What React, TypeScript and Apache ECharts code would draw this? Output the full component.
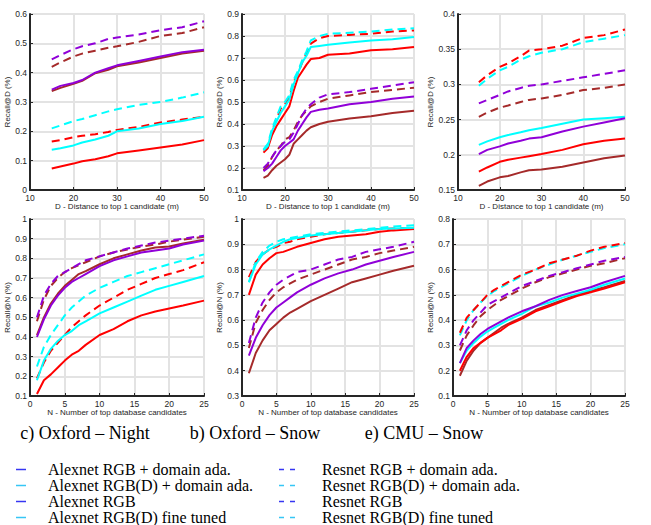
import React, { useEffect, useRef } from "react";
import * as echarts from "echarts";

// ---------- Data ----------
const COLORS: Record<string, string> = {
  red: "#ff0000",
  cyan: "#00ffff",
  purple: "#9000d8",
  brown: "#a52a2a",
};
const VARIANT: Record<string, string> = {
  red: "RGB + domain ada.",
  cyan: "RGB(D) + domain ada.",
  purple: "RGB",
  brown: "RGB(D) fine tuned",
};

// Top row: Recall@D vs D
const xNightD = [15, 17, 20, 22, 25, 28, 30, 35, 40, 45, 50];
const nightD_purpleD = [0.445, 0.46, 0.48, 0.49, 0.5, 0.515, 0.52, 0.53, 0.545, 0.555, 0.575];
const nightD_brownD = [0.42, 0.435, 0.455, 0.465, 0.475, 0.485, 0.49, 0.505, 0.525, 0.535, 0.555];
const nightD_purpleS = [0.342, 0.355, 0.365, 0.375, 0.4, 0.415, 0.425, 0.44, 0.455, 0.47, 0.478];
const nightD_brownS = [0.337, 0.348, 0.362, 0.372, 0.398, 0.41, 0.422, 0.435, 0.45, 0.465, 0.475];
const nightD_cyanD = [0.21, 0.22, 0.235, 0.242, 0.255, 0.268, 0.275, 0.29, 0.3, 0.315, 0.333];
const nightD_redD = [0.165, 0.17, 0.18, 0.185, 0.19, 0.198, 0.205, 0.215, 0.23, 0.24, 0.25];
const nightD_cyanS = [0.137, 0.142, 0.152, 0.162, 0.172, 0.185, 0.2, 0.21, 0.225, 0.235, 0.25];
const nightD_redS = [0.073, 0.08, 0.09, 0.098, 0.105, 0.115, 0.125, 0.135, 0.145, 0.155, 0.17];

const xSnowD = [15, 16, 17, 18, 19, 20, 21, 22, 23, 24, 25, 26, 28, 30, 35, 40, 45, 50];
const snowD_cyanD = [0.285, 0.31, 0.38, 0.43, 0.48, 0.5, 0.53, 0.6, 0.64, 0.69, 0.73, 0.78, 0.8, 0.81, 0.815, 0.82, 0.83, 0.835];
const snowD_redD = [0.28, 0.3, 0.37, 0.42, 0.47, 0.49, 0.52, 0.59, 0.63, 0.68, 0.72, 0.765, 0.79, 0.8, 0.805, 0.81, 0.82, 0.825];
const snowD_cyanS = [0.28, 0.3, 0.37, 0.41, 0.45, 0.48, 0.51, 0.58, 0.63, 0.68, 0.71, 0.75, 0.755, 0.76, 0.77, 0.78, 0.785, 0.795];
const snowD_redS = [0.27, 0.29, 0.35, 0.39, 0.42, 0.45, 0.48, 0.55, 0.61, 0.64, 0.67, 0.695, 0.7, 0.715, 0.72, 0.735, 0.74, 0.75];
const snowD_purpleD = [0.2, 0.22, 0.25, 0.28, 0.3, 0.32, 0.33, 0.36, 0.4, 0.44, 0.47, 0.49, 0.52, 0.535, 0.545, 0.56, 0.575, 0.59];
const snowD_brownD = [0.19, 0.21, 0.25, 0.28, 0.3, 0.33, 0.34, 0.37, 0.41, 0.44, 0.46, 0.48, 0.5, 0.515, 0.53, 0.545, 0.555, 0.565];
const snowD_purpleS = [0.185, 0.2, 0.22, 0.25, 0.28, 0.3, 0.315, 0.33, 0.37, 0.4, 0.43, 0.455, 0.465, 0.47, 0.49, 0.5, 0.515, 0.525];
const snowD_brownS = [0.155, 0.165, 0.19, 0.21, 0.225, 0.24, 0.26, 0.31, 0.33, 0.35, 0.37, 0.385, 0.4, 0.41, 0.425, 0.435, 0.45, 0.46];

const xCmuD = [15, 17, 20, 22, 25, 27, 30, 35, 40, 45, 50];
const cmuD_redD = [0.303, 0.313, 0.325, 0.33, 0.34, 0.348, 0.35, 0.355, 0.366, 0.37, 0.378];
const cmuD_cyanD = [0.298, 0.308, 0.32, 0.325, 0.335, 0.34, 0.345, 0.35, 0.36, 0.365, 0.37];
const cmuD_purpleD = [0.273, 0.278, 0.285, 0.29, 0.295, 0.298, 0.3, 0.305, 0.31, 0.315, 0.32];
const cmuD_brownD = [0.254, 0.26, 0.267, 0.27, 0.275, 0.278, 0.28, 0.285, 0.292, 0.295, 0.3];
const cmuD_cyanS = [0.214, 0.219, 0.225, 0.228, 0.232, 0.235, 0.238, 0.244, 0.25, 0.252, 0.254];
const cmuD_purpleS = [0.201, 0.207, 0.212, 0.216, 0.22, 0.223, 0.225, 0.233, 0.24, 0.246, 0.252];
const cmuD_redS = [0.176, 0.182, 0.19, 0.193, 0.196, 0.198, 0.201, 0.207, 0.215, 0.22, 0.223];
const cmuD_brownS = [0.156, 0.162, 0.168, 0.17, 0.175, 0.178, 0.179, 0.183, 0.189, 0.195, 0.199];

// Bottom row: Recall@N vs N
const xN = [1, 2, 3, 4, 5, 6, 7, 8, 10, 12, 14, 16, 18, 20, 22, 25];
const nightN_purpleD = [0.5, 0.61, 0.67, 0.71, 0.73, 0.75, 0.77, 0.79, 0.81, 0.83, 0.85, 0.865, 0.88, 0.89, 0.9, 0.915];
const nightN_brownD = [0.48, 0.59, 0.66, 0.7, 0.73, 0.75, 0.765, 0.78, 0.81, 0.83, 0.845, 0.86, 0.87, 0.885, 0.895, 0.91];
const nightN_brownS = [0.41, 0.5, 0.57, 0.62, 0.66, 0.69, 0.72, 0.735, 0.77, 0.8, 0.82, 0.84, 0.855, 0.86, 0.875, 0.895];
const nightN_purpleS = [0.4, 0.49, 0.56, 0.61, 0.65, 0.68, 0.7, 0.72, 0.76, 0.79, 0.81, 0.83, 0.84, 0.85, 0.87, 0.89];
const nightN_cyanD = [0.25, 0.35, 0.41, 0.46, 0.51, 0.55, 0.58, 0.61, 0.65, 0.68, 0.71, 0.73, 0.75, 0.77, 0.79, 0.82];
const nightN_redD = [0.19, 0.27, 0.33, 0.37, 0.41, 0.45, 0.48, 0.51, 0.56, 0.6, 0.64, 0.67, 0.7, 0.72, 0.74, 0.78];
const nightN_cyanS = [0.18, 0.28, 0.34, 0.38, 0.41, 0.43, 0.46, 0.48, 0.52, 0.55, 0.58, 0.61, 0.64, 0.66, 0.68, 0.71];
const nightN_redS = [0.11, 0.18, 0.21, 0.245, 0.28, 0.31, 0.33, 0.36, 0.41, 0.44, 0.48, 0.51, 0.53, 0.545, 0.56, 0.585];

const snowN_cyanD = [0.75, 0.83, 0.87, 0.895, 0.91, 0.92, 0.925, 0.93, 0.94, 0.945, 0.95, 0.955, 0.96, 0.965, 0.97, 0.975];
const snowN_redD = [0.77, 0.83, 0.86, 0.88, 0.89, 0.905, 0.91, 0.92, 0.93, 0.94, 0.945, 0.95, 0.955, 0.96, 0.962, 0.965];
const snowN_cyanS = [0.75, 0.82, 0.86, 0.88, 0.895, 0.91, 0.92, 0.925, 0.935, 0.94, 0.945, 0.95, 0.955, 0.96, 0.962, 0.965];
const snowN_redS = [0.7, 0.78, 0.82, 0.845, 0.865, 0.87, 0.88, 0.89, 0.905, 0.92, 0.93, 0.935, 0.94, 0.95, 0.955, 0.96];
const snowN_purpleD = [0.51, 0.61, 0.67, 0.71, 0.74, 0.76, 0.775, 0.79, 0.8, 0.82, 0.84, 0.85, 0.87, 0.88, 0.89, 0.91];
const snowN_brownD = [0.49, 0.59, 0.64, 0.68, 0.71, 0.73, 0.745, 0.76, 0.78, 0.8, 0.82, 0.84, 0.85, 0.865, 0.875, 0.89];
const snowN_purpleS = [0.46, 0.53, 0.58, 0.62, 0.65, 0.67, 0.69, 0.71, 0.74, 0.765, 0.785, 0.8, 0.82, 0.835, 0.85, 0.87];
const snowN_brownS = [0.39, 0.47, 0.52, 0.56, 0.585, 0.61, 0.63, 0.645, 0.675, 0.7, 0.725, 0.75, 0.765, 0.78, 0.795, 0.815];

const cmuN_redD = [0.35, 0.41, 0.44, 0.47, 0.5, 0.52, 0.535, 0.55, 0.58, 0.6, 0.625, 0.64, 0.655, 0.675, 0.69, 0.705];
const cmuN_cyanD = [0.34, 0.4, 0.44, 0.47, 0.495, 0.515, 0.53, 0.545, 0.575, 0.6, 0.62, 0.64, 0.655, 0.67, 0.685, 0.7];
const cmuN_purpleD = [0.3, 0.36, 0.4, 0.43, 0.46, 0.475, 0.49, 0.505, 0.535, 0.555, 0.575, 0.59, 0.605, 0.62, 0.635, 0.65];
const cmuN_brownD = [0.28, 0.34, 0.38, 0.415, 0.44, 0.46, 0.48, 0.495, 0.525, 0.55, 0.57, 0.585, 0.6, 0.615, 0.625, 0.645];
const cmuN_purpleS = [0.23, 0.29, 0.32, 0.345, 0.365, 0.38, 0.395, 0.41, 0.435, 0.455, 0.48, 0.5, 0.515, 0.53, 0.55, 0.575];
const cmuN_cyanS = [0.23, 0.28, 0.31, 0.335, 0.355, 0.37, 0.385, 0.4, 0.425, 0.455, 0.47, 0.49, 0.505, 0.52, 0.54, 0.565];
const cmuN_brownS = [0.18, 0.24, 0.28, 0.31, 0.33, 0.35, 0.37, 0.385, 0.41, 0.44, 0.46, 0.48, 0.5, 0.515, 0.53, 0.555];
const cmuN_redS = [0.2, 0.255, 0.29, 0.31, 0.33, 0.345, 0.36, 0.38, 0.405, 0.435, 0.455, 0.475, 0.495, 0.51, 0.525, 0.55];

const captions = ["c) Oxford – Night", "b) Oxford – Snow", "e) CMU – Snow"];
const xNameTop = "D - Distance to top 1 candidate (m)";
const xNameBottom = "N - Number of top database candidates";
const yNameTop = "Recall@D (%)";
const yNameBottom = "Recall@N (%)";

const legendLeft = [
  "Alexnet RGB + domain ada.",
  "Alexnet RGB(D) + domain ada.",
  "Alexnet RGB",
  "Alexnet RGB(D) fine tuned",
];
const legendRight = [
  "Resnet RGB + domain ada.",
  "Resnet RGB(D) + domain ada.",
  "Resnet RGB",
  "Resnet RGB(D) fine tuned",
];
const legendColors = ["#3636f2", "#36c6f5", "#3636f2", "#36c6f5"];

type S = { c: string; dashed: boolean; v: number[] };
const panels: { xs: number[]; series: S[] }[] = [
  {
    xs: xNightD,
    series: [
      { c: "purple", dashed: true, v: nightD_purpleD },
      { c: "brown", dashed: true, v: nightD_brownD },
      { c: "brown", dashed: false, v: nightD_brownS },
      { c: "purple", dashed: false, v: nightD_purpleS },
      { c: "cyan", dashed: true, v: nightD_cyanD },
      { c: "red", dashed: true, v: nightD_redD },
      { c: "cyan", dashed: false, v: nightD_cyanS },
      { c: "red", dashed: false, v: nightD_redS },
    ],
  },
  {
    xs: xSnowD,
    series: [
      { c: "red", dashed: true, v: snowD_redD },
      { c: "cyan", dashed: true, v: snowD_cyanD },
      { c: "red", dashed: false, v: snowD_redS },
      { c: "cyan", dashed: false, v: snowD_cyanS },
      { c: "brown", dashed: true, v: snowD_brownD },
      { c: "purple", dashed: true, v: snowD_purpleD },
      { c: "brown", dashed: false, v: snowD_brownS },
      { c: "purple", dashed: false, v: snowD_purpleS },
    ],
  },
  {
    xs: xCmuD,
    series: [
      { c: "cyan", dashed: true, v: cmuD_cyanD },
      { c: "red", dashed: true, v: cmuD_redD },
      { c: "purple", dashed: true, v: cmuD_purpleD },
      { c: "brown", dashed: true, v: cmuD_brownD },
      { c: "cyan", dashed: false, v: cmuD_cyanS },
      { c: "purple", dashed: false, v: cmuD_purpleS },
      { c: "red", dashed: false, v: cmuD_redS },
      { c: "brown", dashed: false, v: cmuD_brownS },
    ],
  },
  {
    xs: xN,
    series: [
      { c: "brown", dashed: true, v: nightN_brownD },
      { c: "purple", dashed: true, v: nightN_purpleD },
      { c: "brown", dashed: false, v: nightN_brownS },
      { c: "purple", dashed: false, v: nightN_purpleS },
      { c: "cyan", dashed: true, v: nightN_cyanD },
      { c: "red", dashed: true, v: nightN_redD },
      { c: "cyan", dashed: false, v: nightN_cyanS },
      { c: "red", dashed: false, v: nightN_redS },
    ],
  },
  {
    xs: xN,
    series: [
      { c: "red", dashed: true, v: snowN_redD },
      { c: "cyan", dashed: true, v: snowN_cyanD },
      { c: "red", dashed: false, v: snowN_redS },
      { c: "cyan", dashed: false, v: snowN_cyanS },
      { c: "brown", dashed: true, v: snowN_brownD },
      { c: "purple", dashed: true, v: snowN_purpleD },
      { c: "brown", dashed: false, v: snowN_brownS },
      { c: "purple", dashed: false, v: snowN_purpleS },
    ],
  },
  {
    xs: xN,
    series: [
      { c: "cyan", dashed: true, v: cmuN_cyanD },
      { c: "red", dashed: true, v: cmuN_redD },
      { c: "brown", dashed: true, v: cmuN_brownD },
      { c: "purple", dashed: true, v: cmuN_purpleD },
      { c: "brown", dashed: false, v: cmuN_brownS },
      { c: "red", dashed: false, v: cmuN_redS },
      { c: "cyan", dashed: false, v: cmuN_cyanS },
      { c: "purple", dashed: false, v: cmuN_purpleS },
    ],
  },
];

const grids = [
  { left: 30, top: 14, width: 174, height: 176 },
  { left: 242, top: 14, width: 172, height: 176 },
  { left: 458, top: 14, width: 167, height: 176 },
  { left: 30, top: 219, width: 174, height: 177 },
  { left: 242, top: 219, width: 172, height: 177 },
  { left: 453, top: 219, width: 172, height: 177 },
];
const yRanges = [
  [0, 0.6, 0.1],
  [0.1, 0.9, 0.1],
  [0.15, 0.4, 0.05],
  [0.1, 1, 0.1],
  [0.3, 1, 0.1],
  [0.1, 0.8, 0.1],
];

const AXIS_COLOR = "#262626";
const GRID_COLOR = "#e3e3e3";
const SANS = "Liberation Sans, Arial, sans-serif";
const SERIF = "Liberation Serif, DejaVu Serif, serif";

export default function App() {
  const ref = useRef<HTMLDivElement>(null);
  useEffect(() => {
    document.body.style.margin = "0";
    if (!ref.current) return;
    const chart = echarts.init(ref.current, undefined, { renderer: "svg" });

    const fmt = (v: number) => String(parseFloat(v.toFixed(3)));

    const xAxis = grids.map((_, i) => ({
      type: "value",
      gridIndex: i,
      min: i < 3 ? 10 : 0,
      max: i < 3 ? 50 : 25,
      interval: i < 3 ? 10 : 5,
      name: i < 3 ? xNameTop : xNameBottom,
      nameLocation: "middle",
      nameGap: 12,
      nameTextStyle: { fontSize: 8, color: AXIS_COLOR, fontFamily: SANS },
      axisLine: { show: true, onZero: false, lineStyle: { color: AXIS_COLOR, width: 2 } },
      axisTick: { show: true, inside: true, length: 3, lineStyle: { color: AXIS_COLOR, width: 1 } },
      axisLabel: { fontSize: 8.5, color: AXIS_COLOR, fontFamily: SANS, margin: 3, formatter: fmt, showMinLabel: true, showMaxLabel: true },
      splitLine: { show: true, lineStyle: { color: GRID_COLOR, width: 2 } },
    }));
    const yAxis = grids.map((_, i) => ({
      type: "value",
      gridIndex: i,
      min: yRanges[i][0],
      max: yRanges[i][1],
      interval: yRanges[i][2],
      name: i < 3 ? yNameTop : yNameBottom,
      nameLocation: "middle",
      nameGap: i === 2 || i === 5 ? 19 : 17,
      nameTextStyle: { fontSize: 8, color: AXIS_COLOR, fontFamily: SANS },
      axisLine: { show: true, onZero: false, lineStyle: { color: AXIS_COLOR, width: 2 } },
      axisTick: { show: true, inside: true, length: 3, lineStyle: { color: AXIS_COLOR, width: 1 } },
      axisLabel: { fontSize: 8.5, color: AXIS_COLOR, fontFamily: SANS, margin: 3, formatter: fmt, showMinLabel: true, showMaxLabel: true },
      splitLine: { show: true, lineStyle: { color: GRID_COLOR, width: 2 } },
    }));

    const series: any[] = [];
    panels.forEach((p, gi) => {
      p.series.forEach((s) => {
        series.push({
          type: "line",
          name: (s.dashed ? "Resnet " : "Alexnet ") + VARIANT[s.c],
          xAxisIndex: gi,
          yAxisIndex: gi,
          data: p.xs.map((x, k) => [x, s.v[k]]),
          showSymbol: false,
          symbol: "none",
          clip: true,
          lineStyle: {
            color: COLORS[s.c],
            width: 2,
            type: s.dashed ? [8, 5] : "solid",
          },
        });
      });
    });

    const graphic: any[] = [];
    const capX = [85, 255, 424];
    captions.forEach((t, i) => {
      graphic.push({
        type: "text",
        x: capX[i],
        y: 433,
        style: { text: t, fill: "#000", fontSize: 18, fontFamily: SERIF, align: "center", verticalAlign: "middle" },
      });
    });
    const rowY = [469.5, 485.5, 501.5, 517.5];
    legendLeft.forEach((t, i) => {
      graphic.push({
        type: "line",
        shape: { x1: 16, y1: rowY[i], x2: 26, y2: rowY[i] },
        style: { stroke: legendColors[i], lineWidth: 1.5 },
      });
      graphic.push({
        type: "text",
        x: 48,
        y: rowY[i],
        style: { text: t, fill: "#000", fontSize: 16, fontFamily: SERIF, align: "left", verticalAlign: "middle" },
      });
    });
    legendRight.forEach((t, i) => {
      graphic.push({
        type: "line",
        shape: { x1: 279, y1: rowY[i], x2: 295, y2: rowY[i] },
        style: { stroke: legendColors[i], lineWidth: 1.5, lineDash: [5, 6] },
      });
      graphic.push({
        type: "text",
        x: 322,
        y: rowY[i],
        style: { text: t, fill: "#000", fontSize: 16, fontFamily: SERIF, align: "left", verticalAlign: "middle" },
      });
    });

    chart.setOption({
      animation: false,
      backgroundColor: "#ffffff",
      grid: grids.map((g) => ({ ...g, containLabel: false })),
      xAxis,
      yAxis,
      series,
      graphic,
    });
    return () => chart.dispose();
  }, []);
  return <div ref={ref} style={{ width: 651, height: 525 }} />;
}
